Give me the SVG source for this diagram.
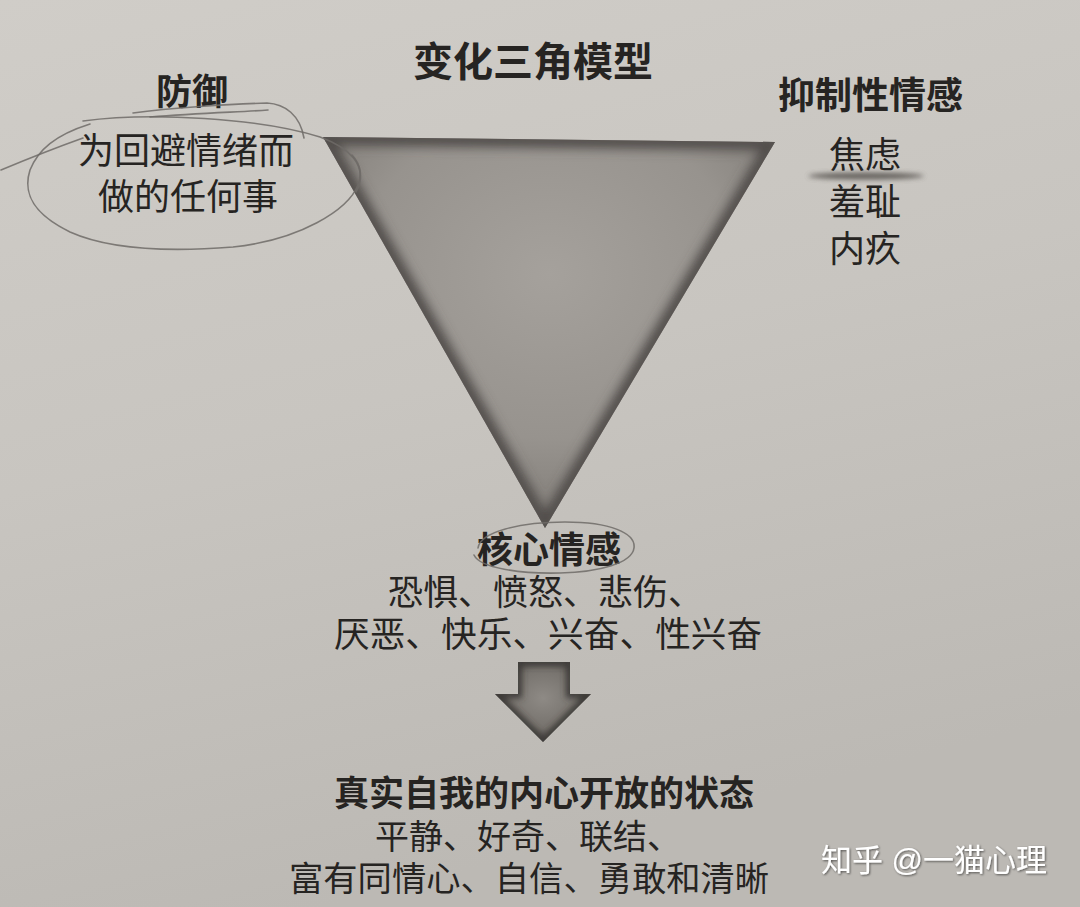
<svg xmlns="http://www.w3.org/2000/svg" width="1080" height="907" viewBox="0 0 1080 907">
  <defs>
    <linearGradient id="paper" x1="0" y1="0" x2="0.3" y2="1">
      <stop offset="0" stop-color="#d0cdc8"/>
      <stop offset="0.5" stop-color="#c8c5c0"/>
      <stop offset="1" stop-color="#bcb9b4"/>
    </linearGradient>
    <radialGradient id="triFill" cx="0.5" cy="0.35" r="0.6">
      <stop offset="0" stop-color="#a5a19c"/>
      <stop offset="0.7" stop-color="#97938e"/>
      <stop offset="1" stop-color="#85817c"/>
    </radialGradient>
    <radialGradient id="arrowFill" cx="0.5" cy="0.45" r="0.6">
      <stop offset="0" stop-color="#8e8a85"/>
      <stop offset="0.6" stop-color="#77736e"/>
      <stop offset="1" stop-color="#4e4a47"/>
    </radialGradient>
    <filter id="blur6" x="-20%" y="-20%" width="140%" height="140%">
      <feGaussianBlur stdDeviation="6"/>
    </filter>
    <filter id="blur3" x="-20%" y="-20%" width="140%" height="140%">
      <feGaussianBlur stdDeviation="3"/>
    </filter>
    <filter id="blur2" x="-20%" y="-200%" width="140%" height="500%">
      <feGaussianBlur stdDeviation="2.5"/>
    </filter>
    <filter id="shadow" x="-10%" y="-30%" width="120%" height="160%">
      <feDropShadow dx="1" dy="1" stdDeviation="1.2" flood-color="#000" flood-opacity="0.55"/>
    </filter>
    <clipPath id="triClip">
      <polygon points="323,137 775,142 545,528"/>
    </clipPath>
    <clipPath id="arrowClip">
      <polygon points="518,662 570,662 570,694 591,694 543,742 495,694 518,694"/>
    </clipPath>
    <style>
      .t { font-family: "Liberation Sans", "Noto Sans CJK SC", sans-serif; fill: #262422; }
      .b { font-weight: bold; }
      .pencil { fill: none; stroke: #6f6b67; stroke-width: 1.6; stroke-linecap: round; stroke-linejoin: round; opacity: 0.85; }
    </style>
  </defs>

  <rect width="1080" height="907" fill="url(#paper)"/>

  <!-- title -->
  <text class="t b" x="413" y="76" font-size="40">变化三角模型</text>

  <!-- triangle -->
  <g id="triangle">
    <polygon points="323,137 775,142 545,528" fill="url(#triFill)"/>
    <g clip-path="url(#triClip)">
      <polygon points="323,137 775,142 545,528" fill="none" stroke="#4f4b48" stroke-width="16" filter="url(#blur6)"/>
      <polygon points="323,137 775,142 545,528" fill="none" stroke="#5a5652" stroke-width="3" filter="url(#blur3)"/>
    </g>
  </g>

  <!-- defense node -->
  <g id="defense">
    <text class="t b" x="156" y="105" font-size="36">防御</text>
    <text class="t" x="78" y="164" font-size="36">为回避情绪而</text>
    <text class="t" x="98" y="210" font-size="36">做的任何事</text>
    <path class="pencil" d="M133,113 C170,108 230,104 267,103 C285,104 300,115 304,138"/>
    <path class="pencil" d="M150,117 C200,113 240,112 268,110"/>
    <path class="pencil" d="M83,121 C150,112 260,118 320,137 C350,148 366,165 358,185 C348,210 300,240 233,247 C170,252 110,250 70,232 C35,215 22,195 30,170 C38,150 55,135 90,124"/>
    <path class="pencil" d="M1,170 C25,160 55,148 83,138"/>
    <path class="pencil" d="M352,155 C362,165 363,180 356,192"/>
  </g>

  <!-- inhibitory affects node -->
  <g id="inhibitory">
    <text class="t b" x="778" y="109" font-size="37">抑制性情感</text>
    <ellipse cx="866" cy="176" rx="58" ry="3.5" fill="#55514d" filter="url(#blur2)" opacity="0.85"/>
    <text class="t" x="829" y="168" font-size="36">焦虑</text>
    <text class="t" x="829" y="215" font-size="36">羞耻</text>
    <text class="t" x="829" y="262" font-size="36">内疚</text>
  </g>

  <!-- core affects node -->
  <g id="core">
    <text class="t b" x="477" y="563" font-size="36">核心情感</text>
    <path class="pencil" d="M478,548 C480,532 520,522 565,522 C610,522 636,533 634,548 C632,563 600,572 560,573 C520,574 480,568 474,555"/>
    <text class="t" x="388" y="605" font-size="35">恐惧、愤怒、悲伤、</text>
    <text class="t" x="334" y="647" font-size="35.7">厌恶、快乐、兴奋、性兴奋</text>
  </g>

  <!-- connector arrow -->
  <g id="connectors">
    <polygon points="518,662 570,662 570,694 591,694 543,742 495,694 518,694" fill="url(#arrowFill)"/>
    <g clip-path="url(#arrowClip)">
      <polygon points="518,662 570,662 570,694 591,694 543,742 495,694 518,694" fill="none" stroke="#3e3a37" stroke-width="8" filter="url(#blur3)"/>
    </g>
  </g>

  <!-- open state node -->
  <g id="open-state">
    <text class="t b" x="334" y="806" font-size="35">真实自我的内心开放的状态</text>
    <text class="t" x="375" y="849" font-size="34">平静、好奇、联结、</text>
    <text class="t" x="289" y="891" font-size="34.3">富有同情心、自信、勇敢和清晰</text>
  </g>

  <!-- watermark -->
  <text x="821" y="871" font-size="31" font-family="Liberation Sans, Noto Sans CJK SC, sans-serif" fill="#ffffff" filter="url(#shadow)">知乎 @一猫心理</text>
</svg>
